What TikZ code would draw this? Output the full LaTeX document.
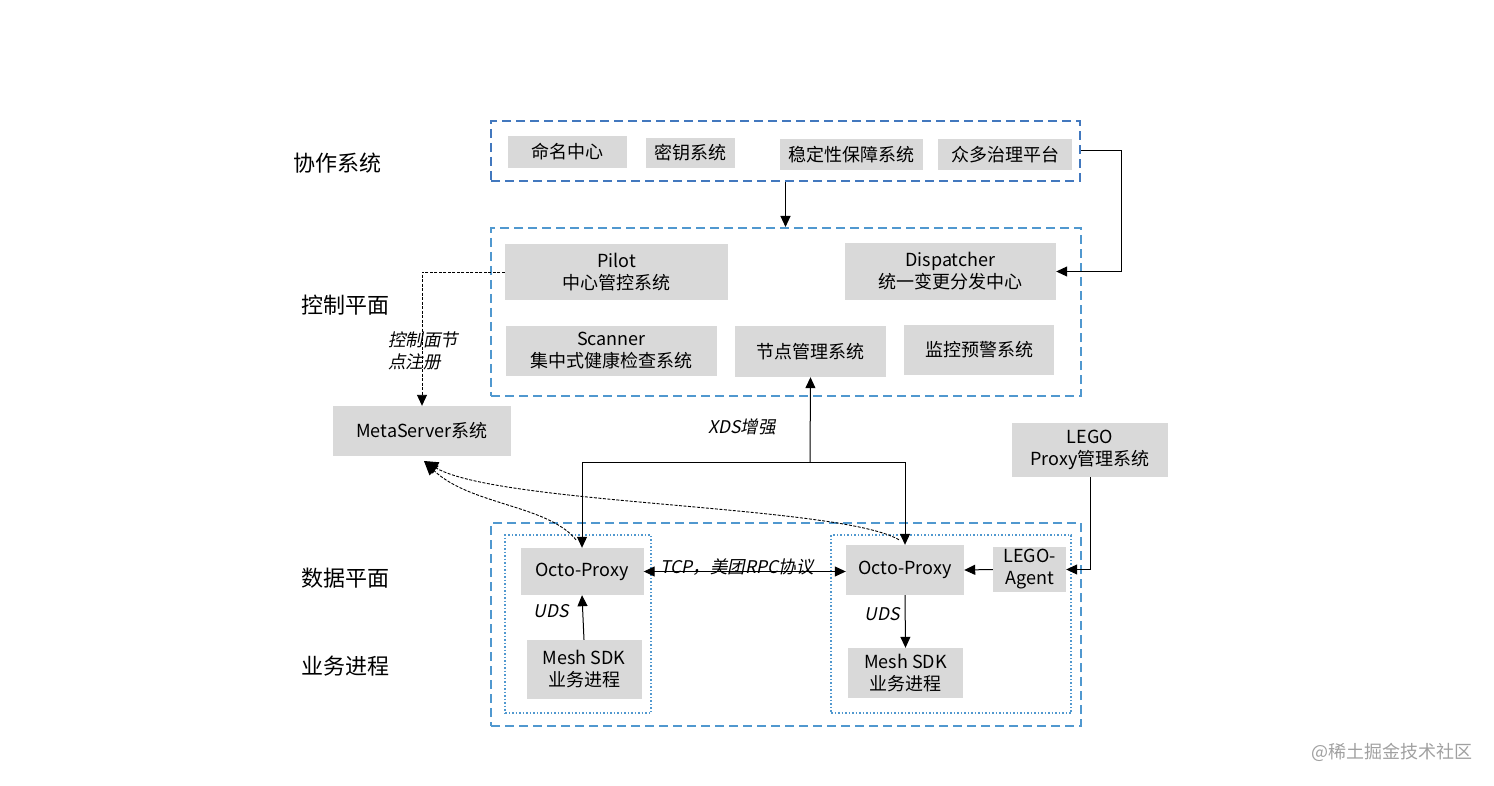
\documentclass[tikz,border=0pt]{standalone}
\usepackage{fontspec}
\setmainfont{Noto Sans CJK SC}
\newfontfamily\slfont[FakeSlant=0.2]{Noto Sans CJK SC}
\usetikzlibrary{arrows.meta,calc}
\definecolor{boxgray}{RGB}{217,217,217}
\definecolor{topblue}{RGB}{66,120,190}
\definecolor{midblue}{RGB}{80,152,207}
\definecolor{wmgray}{RGB}{160,160,160}
\tikzset{
  gbox/.style={fill=boxgray,draw=none,inner sep=0pt,align=center,font=\fontsize{18}{22}\selectfont},
  sidelbl/.style={font=\fontsize{22}{26}\selectfont,inner sep=0pt},
  itlbl/.style={font=\fontsize{17.5}{22}\selectfont\slfont,inner sep=0pt,align=left},
  groupA/.style={draw=topblue,line width=2pt,dash pattern=on 9pt off 5pt},
  groupB/.style={draw=midblue,line width=2pt,dash pattern=on 9pt off 5pt},
  inner/.style={draw=midblue,line width=1.5pt,dash pattern=on 1.5pt off 2pt},
  conn/.style={line width=1pt,-{Triangle[length=11pt,width=10pt]}},
  dconn/.style={line width=0.9pt,dash pattern=on 3pt off 1.5pt,-{Triangle[length=14pt,width=13pt]}},
}
\begin{document}
\begin{tikzpicture}[x=1pt,y=-1pt]
\useasboundingbox (0,0) rectangle (1494,786);

% containers
\node[groupA,minimum width=589pt,minimum height=60pt,inner sep=0pt] (topc) at (785.5,151) {};
\node[groupB,minimum width=590pt,minimum height=168pt,inner sep=0pt] (ctrl) at (786,312) {};
\node[groupB,minimum width=590pt,minimum height=203pt,inner sep=0pt] (data) at (786,624.5) {};
\node[inner,minimum width=146pt,minimum height=178pt,inner sep=0pt] (inL) at (578,624) {};
\node[inner,minimum width=240pt,minimum height=178pt,inner sep=0pt] (inR) at (951,624) {};

% side labels
\node[sidelbl] (l1) at (337,163) {协作系统};
\node[sidelbl] (l2) at (345,305) {控制平面};
\node[sidelbl] (l3) at (345,578) {数据平面};
\node[sidelbl] (l4) at (345,666) {业务进程};

% top boxes
\node[gbox,minimum width=119pt,minimum height=32pt] (n1) at (567.5,152) {命名中心};
\node[gbox,minimum width=89pt,minimum height=30pt] (n2) at (690.5,153) {密钥系统};
\node[gbox,minimum width=143pt,minimum height=31pt] (n3) at (851.5,154.5) {稳定性保障系统};
\node[gbox,minimum width=134pt,minimum height=31pt] (n4) at (1005,154.5) {众多治理平台};

% control plane
\node[gbox,minimum width=223pt,minimum height=56pt] (pilot) at (616.5,272) {Pilot\\中心管控系统};
\node[gbox,minimum width=211pt,minimum height=57pt] (disp) at (950.5,271.5) {Dispatcher\\统一变更分发中心};
\node[gbox,minimum width=211pt,minimum height=50pt] (scan) at (611.5,351) {Scanner\\集中式健康检查系统};
\node[gbox,minimum width=151pt,minimum height=51pt] (nodem) at (810.5,351.5) {节点管理系统};
\node[gbox,minimum width=150pt,minimum height=50pt] (mon) at (979,350) {监控预警系统};

% others
\node[gbox,minimum width=178pt,minimum height=50pt] (meta) at (422,431) {MetaServer系统};
\node[gbox,minimum width=156pt,minimum height=54pt] (lego) at (1090,450) {LEGO\\Proxy管理系统};

% data plane
\node[gbox,minimum width=123pt,minimum height=47pt] (octoL) at (582,571.5) {Octo-Proxy};
\node[gbox,minimum width=115pt,minimum height=59pt] (meshL) at (584,669.5) {Mesh SDK\\业务进程};
\node[gbox,minimum width=118pt,minimum height=50pt] (octoR) at (905,570) {Octo-Proxy};
\node[gbox,minimum width=115pt,minimum height=50pt] (meshR) at (905.5,673) {Mesh SDK\\业务进程};
\node[gbox,minimum width=73pt,minimum height=45pt] (agent) at (1029.5,569.5) {LEGO-\\Agent};

% italic labels
\node[itlbl,anchor=west] (reg) at (388,351) {控制面节\\点注册};
\node[itlbl] (xds) at (742,427) {XDS增强};
\node[itlbl] (udsL) at (551,611) {UDS};
\node[itlbl] (udsR) at (882,614) {UDS};

% connectors
\draw[conn] (topc.south) -- (topc.south |- ctrl.north);
\draw[conn] (topc.east) -- (1121,151) |- (disp.east);
\draw[line width=0.9pt,dash pattern=on 3pt off 1.5pt,-{Triangle[length=11pt,width=10pt]}] (pilot.west) -| (meta.north);

\coordinate (j) at (810,462);
\draw[conn] (j) -- (nodem.south);
\draw[conn] (j) -| (octoL.north);
\draw[conn] (j) -| (octoR.north);

\draw[conn] (lego.south) |- (agent.east);
\draw[conn] (agent.west) -- (octoR.east);
\draw[conn] (meshL.north) -- (octoL.south);
\draw[conn] (octoR.south) -- (meshR.north);
\draw[line width=1pt,{Triangle[length=11pt,width=10pt]}-{Triangle[length=11pt,width=10pt]}] (octoL.east) -- (octoL.east -| octoR.west);
\node[itlbl] (tcp) at (737,567) {TCP，美团RPC协议};

\coordinate (mtip) at (424,461);
\draw[dconn] ($(octoL.north)+(-6,-8)$) .. controls (548,505) and (470,505) .. (mtip);
\draw[dconn] ($(octoR.north)+(-6,-5)$) .. controls (840,505) and (500,505) .. (mtip);

% watermark
\node[font=\fontsize{18}{20}\selectfont,text=wmgray,inner sep=0pt] (wm) at (1392,752) {@稀土掘金技术社区};
\end{tikzpicture}
\end{document}
